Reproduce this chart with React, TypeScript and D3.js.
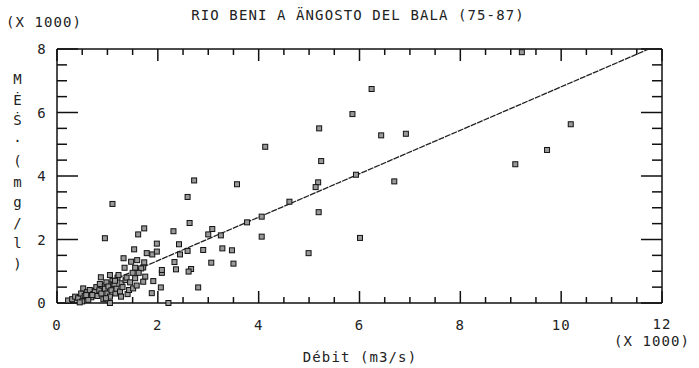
import React from "react";
import * as d3 from "d3";

// discharge (x 1000 m3/s) vs suspended matter (x 1000 mg/l)
const debit = [
  9.22, 10.19, 9.72, 9.09, 6.24, 5.86, 5.2, 6.43, 6.92, 4.13, 5.24, 6.69, 5.93, 5.18,
  5.13, 4.61, 5.19, 4.06, 4.06, 6.01, 4.99, 2.72, 3.57, 2.59, 1.1, 0.95, 1.73, 2.31,
  2.63, 3.08, 3.0, 3.25, 3.77, 1.61, 1.98, 2.42, 1.78, 1.89, 1.98, 2.44, 2.59, 2.9,
  3.28, 3.47, 1.53, 2.33, 3.06, 3.5, 1.71, 2.08, 2.36, 2.66, 2.61, 1.75, 1.71, 1.91,
  2.06, 2.8, 1.88, 2.21, 1.32, 1.47, 1.59, 1.73, 1.34, 1.55, 1.67, 2.08,
  // dense cluster near the origin
  0.22, 0.3, 0.36, 0.42, 0.48, 0.52, 0.55, 0.6, 0.65, 0.68, 0.72, 0.75, 0.78, 0.8,
  0.84, 0.87, 0.88, 0.9, 0.92, 0.95, 0.98, 1.0, 1.02, 1.05, 1.05, 1.05, 1.08, 1.1,
  1.12, 1.14, 1.16, 1.18, 1.2, 1.22, 1.25, 1.28, 1.3, 1.36, 1.38, 1.4, 1.43, 1.45,
  1.5, 1.51, 1.55, 1.58, 1.62, 0.62, 0.7, 0.85, 0.97, 1.15, 1.27, 0.5, 0.58, 0.45,
];
const mes = [
  7.9, 5.63, 4.82, 4.37, 6.74, 5.95, 5.5, 5.28, 5.33, 4.92, 4.47, 3.83, 4.04, 3.8,
  3.65, 3.19, 2.86, 2.72, 2.09, 2.05, 1.57, 3.86, 3.74, 3.34, 3.12, 2.04, 2.35, 2.26,
  2.52, 2.33, 2.16, 2.13, 2.54, 2.16, 1.87, 1.85, 1.57, 1.53, 1.62, 1.53, 1.64, 1.67,
  1.72, 1.66, 1.69, 1.29, 1.27, 1.24, 1.12, 0.95, 1.06, 1.07, 0.99, 0.83, 0.67, 0.69,
  0.49, 0.49, 0.31, 0.0, 1.41, 1.3, 1.35, 1.28, 1.11, 1.11, 1.09, 1.04,
  0.08, 0.12, 0.2, 0.15, 0.3, 0.46, 0.22, 0.35, 0.41, 0.18, 0.28, 0.36, 0.5, 0.22,
  0.4, 0.81, 0.3, 0.55, 0.12, 0.45, 0.65, 0.3, 0.52, 0.88, 0.2, 0.0, 0.4, 0.7,
  0.58, 0.59, 0.3, 0.45, 0.8, 0.88, 0.36, 0.62, 0.5, 0.72, 0.8, 0.28, 0.41, 0.65,
  0.95, 0.46, 0.78, 0.55, 0.95, 0.1, 0.25, 0.6, 0.15, 0.7, 0.2, 0.05, 0.25, 0.02,
];

// fitted line, end points
const fitX = [0.3, 11.74];
const fitY = [0.17, 8.0];

const xTickLabels = ["0", "2", "4", "6", "8", "10", "12"];
const yTickLabels = ["0", "2", "4", "6", "8"];
const yTitle = ["M", "Ė", "Ṡ", "·", "(", "m", "g", "/", "l", ")"];

const title = "RIO BENI A ÄNGOSTO DEL BALA (75-87)";
const font = "'DejaVu Sans Mono', monospace";

const W = 699;
const H = 368;
const LEFT = 57;
const RIGHT = 662;
const TOP = 49;
const BOTTOM = 303;

const App: React.FC = () => {
  const x = d3.scaleLinear().domain([0, 12]).range([LEFT, RIGHT]);
  const y = d3.scaleLinear().domain([0, 8]).range([BOTTOM, TOP]);

  const xTicks = d3.range(0, 25).map((i) => i * 0.5);
  const yTicks = d3.range(0, 17).map((i) => i * 0.5);

  // frame edges and inward ticks as [x1, y1, x2, y2]
  const segs: number[][] = [
    [LEFT, TOP, RIGHT, TOP],
    [LEFT, BOTTOM, RIGHT, BOTTOM],
    [LEFT, TOP, LEFT, BOTTOM],
    [RIGHT, TOP, RIGHT, BOTTOM],
  ];
  xTicks.forEach((t) => {
    const len = t % 2 === 0 ? 12 : 6;
    segs.push([x(t), BOTTOM, x(t), BOTTOM - len]);
    segs.push([x(t), TOP, x(t), TOP + len]);
  });
  yTicks.forEach((t) => {
    const len = t % 2 === 0 ? 21 : 10;
    segs.push([LEFT, y(t), LEFT + len, y(t)]);
    segs.push([RIGHT, y(t), RIGHT - len, y(t)]);
  });

  const txt = { fontFamily: font, fontSize: 14, fill: "#222", letterSpacing: 1.1 };

  return (
    <svg width={W} height={H} style={{ position: "absolute", left: 0, top: 0 }}>
      <g>
        {segs.map((s, i) => (
          <line key={"s" + i} x1={s[0]} y1={s[1]} x2={s[2]} y2={s[3]} stroke="#111" strokeWidth={1.5} />
        ))}
      </g>

      <text x={358} y={20} textAnchor="middle" style={txt}>{title}</text>
      <text x={44} y={27} textAnchor="middle" style={txt}>(X 1000)</text>

      {xTickLabels.map((l) => (
        <text key={"xlab" + l} x={x(+l)} y={l === "12" ? 329 : 330} textAnchor="middle" style={txt}>{l}</text>
      ))}
      <text x={652} y={346} textAnchor="middle" style={txt}>(X 1000)</text>
      <text x={360} y={362} textAnchor="middle" style={txt}>Débit (m3/s)</text>

      {yTickLabels.map((l) => (
        <text key={"ylab" + l} x={42} y={y(+l) + 5} textAnchor="middle" style={txt}>{l}</text>
      ))}
      {yTitle.map((c, i) => (
        <text key={"yc" + i} x={18} y={84 + i * 20.5} textAnchor="middle" style={txt}>{c}</text>
      ))}

      {/* regression line */}
      <line x1={x(fitX[0])} y1={y(fitY[0])} x2={x(fitX[1])} y2={y(fitY[1])}
        stroke="#222" strokeWidth={1.3} strokeDasharray="6 1" />

      {/* points */}
      {debit.map((d, i) => (
        <rect key={"p" + i} x={x(d) - 2.5} y={y(mes[i]) - 2.5} width={5} height={5}
          fill="#999" stroke="#111" strokeWidth={1} />
      ))}
    </svg>
  );
};

export default App;
